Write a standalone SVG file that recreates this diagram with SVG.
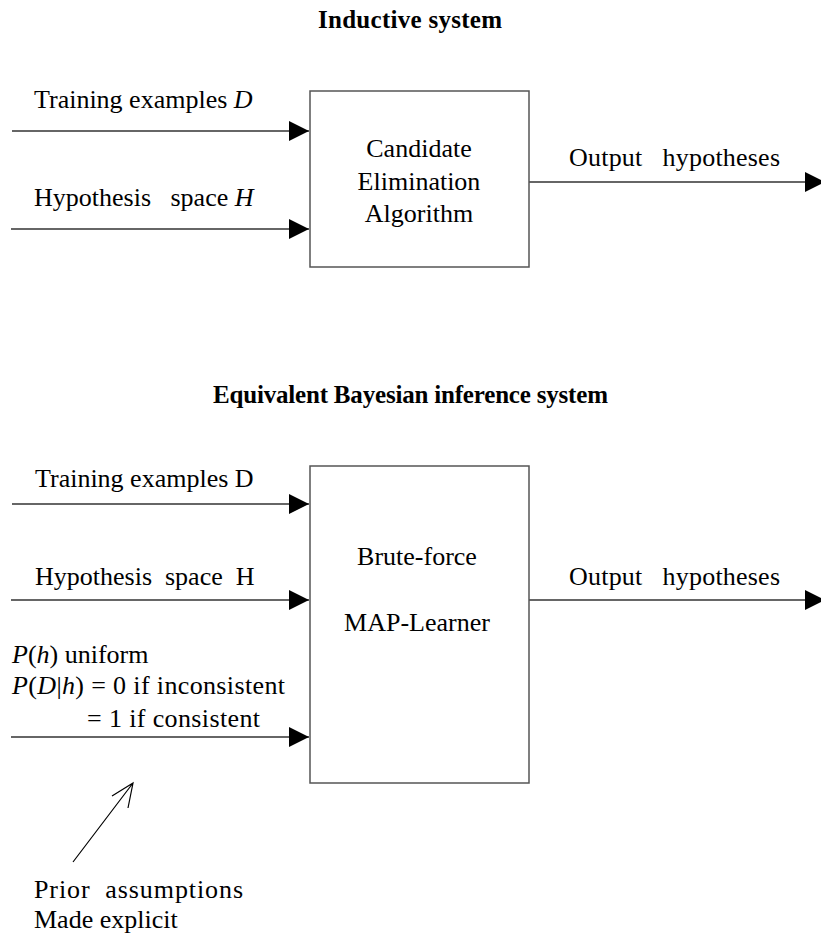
<svg xmlns="http://www.w3.org/2000/svg" width="821" height="936" viewBox="0 0 821 936">
<style>
text{font-family:"Liberation Serif","Times New Roman",serif;font-size:26px;fill:#000;white-space:pre}
.t{font-weight:bold;font-size:25px}
.c{text-anchor:middle}
.ln{stroke:#333;stroke-width:1.5;fill:none}
.box{fill:#fff;stroke:#555;stroke-width:1.5}
</style>
<defs>
<marker id="ah" markerUnits="userSpaceOnUse" markerWidth="20" markerHeight="20" refX="20" refY="10" orient="auto" viewBox="0 0 20 20">
<path d="M0,0 L20,10 L0,20 Z" fill="#000"/>
</marker>
</defs>
<rect width="821" height="936" fill="#fff"/>
<text class="t" x="318" y="28" textLength="184" lengthAdjust="spacing">Inductive system</text>
<text class="t" x="213" y="403" textLength="395" lengthAdjust="spacing">Equivalent Bayesian inference system</text>
<g id="connectors">
<line class="ln" x1="12" y1="131" x2="309" y2="131" marker-end="url(#ah)"/>
<line class="ln" x1="11" y1="229" x2="309" y2="229" marker-end="url(#ah)"/>
<line class="ln" x1="529" y1="182" x2="825" y2="182" marker-end="url(#ah)"/>
<line class="ln" x1="12" y1="504" x2="309" y2="504" marker-end="url(#ah)"/>
<line class="ln" x1="11" y1="600" x2="309" y2="600" marker-end="url(#ah)"/>
<line class="ln" x1="529" y1="600" x2="825" y2="600" marker-end="url(#ah)"/>
<line class="ln" x1="11" y1="737" x2="309" y2="737" marker-end="url(#ah)"/>
<path class="ln" style="stroke-width:1.2;stroke:#000" d="M73,862 L133,783 M112,796 L133,783 L128,808"/>
</g>
<g id="labels">
<text x="34" y="108">Training examples <tspan font-style="italic">D</tspan></text>
<text x="34" y="206">Hypothesis   space <tspan font-style="italic">H</tspan></text>
<text x="569" y="166" textLength="211" lengthAdjust="spacing">Output   hypotheses</text>
<text x="35" y="487">Training examples D</text>
<text x="35" y="585">Hypothesis  space  H</text>
<text x="569" y="585" textLength="211" lengthAdjust="spacing">Output   hypotheses</text>
<text x="12" y="663"><tspan font-style="italic">P</tspan>(<tspan font-style="italic">h</tspan>) uniform</text>
<text x="12" y="694" textLength="273" lengthAdjust="spacing"><tspan font-style="italic">P</tspan>(<tspan font-style="italic">D</tspan>|<tspan font-style="italic">h</tspan>) = 0 if inconsistent</text>
<text x="87" y="727" textLength="173" lengthAdjust="spacing">= 1 if consistent</text>
<text x="34" y="898" textLength="209" lengthAdjust="spacing">Prior  assumptions</text>
<text x="34" y="928">Made explicit</text>
</g>
<g id="node-ce">
<rect class="box" x="310" y="91" width="219" height="176"/>
<text class="c" x="419" y="157">Candidate</text>
<text class="c" x="419" y="190">Elimination</text>
<text class="c" x="419" y="222">Algorithm</text>
</g>
<g id="node-map">
<rect class="box" x="310" y="466" width="219" height="317"/>
<text class="c" x="417" y="565">Brute-force</text>
<text class="c" x="417" y="631">MAP-Learner</text>
</g>
</svg>
